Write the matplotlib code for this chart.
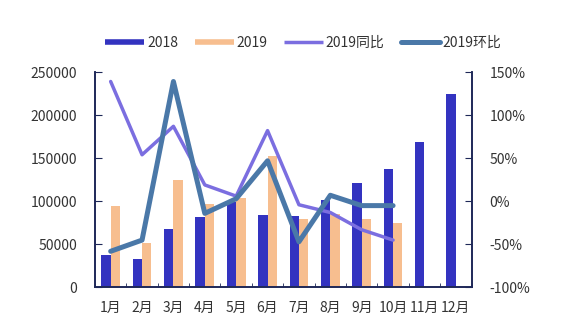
import matplotlib
matplotlib.use("Agg")
import matplotlib.pyplot as plt
import numpy as np
from matplotlib.lines import Line2D

plt.rcParams['font.family'] = ['Noto Sans CJK SC', 'DejaVu Sans']

months = ["1月", "2月", "3月", "4月", "5月", "6月", "7月", "8月", "9月", "10月", "11月", "12月"]
sales_2018 = [38000, 33500, 67500, 81500, 99000, 84000, 83500, 101000, 121000, 137000, 168500, 225000]
sales_2019 = [95000, 52000, 125000, 96500, 103500, 152000, 79000, 85500, 79000, 74500]
yoy_2019 = [139, 54, 87, 19, 6, 82, -4, -13, -33, -45]
mom_2019 = [-58, -45, 139, -14, 3, 47, -47, 7, -5, -5]

c18 = "#3333C0"
c19 = "#F7BE8F"
cyoy = "#7B6EE0"
cmom = "#4A78A8"
axc = "#1E2858"
txt = "#333333"

fig = plt.figure(figsize=(5.62, 3.25), dpi=100)
ax = fig.add_axes([0.169, 0.1154, 0.670, 0.663])
ax2 = ax.twinx()

x = np.arange(len(months))
w = 0.3
x19 = np.arange(len(sales_2019))
ax.bar(x - w / 2, sales_2018, width=w, color=c18, zorder=2)
ax.bar(x19 + w / 2, sales_2019, width=w, color=c19, zorder=2)

ax2.plot(x19, yoy_2019, color=cyoy, lw=2.5, solid_capstyle='round', solid_joinstyle='round', zorder=3)
ax2.plot(x19, mom_2019, color=cmom, lw=3.6, solid_capstyle='round', solid_joinstyle='round', zorder=4)

ax.set_xlim(-0.5, 11.5)
ax.set_ylim(0, 250000)
ax2.set_ylim(-100, 150)
ax.set_yticks(np.arange(0, 250001, 50000))
ax2.set_yticks(np.arange(-100, 151, 50))
ax2.set_yticklabels([f"{v}%" for v in range(-100, 151, 50)])
ax.set_xticks(x)
ax.set_xticklabels(months)
ax.set_xticks(np.arange(-0.5, 11.6, 1), minor=True)

ax.tick_params(axis='x', which='major', length=0, pad=10, labelsize=10, colors=txt)
ax.tick_params(axis='x', which='minor', length=3, direction='in', color=axc)
ax.tick_params(axis='y', length=5, direction='in', color=axc, labelsize=10, labelcolor=txt, pad=13)
ax2.tick_params(axis='y', length=5, direction='in', color=axc, labelsize=10, labelcolor=txt, pad=13)

for a in (ax, ax2):
    a.spines['top'].set_visible(False)
    for s in ('left', 'right', 'bottom'):
        a.spines[s].set_color(axc)
        a.spines[s].set_linewidth(1.2)

handles = [
    Line2D([], [], color=c18, lw=4, solid_capstyle='butt'),
    Line2D([], [], color=c19, lw=4, solid_capstyle='butt'),
    Line2D([], [], color=cyoy, lw=2.5, solid_capstyle='butt'),
    Line2D([], [], color=cmom, lw=3.6, solid_capstyle='round'),
]
labels = ["2018", "2019", "2019同比", "2019环比"]
fig.legend(handles, labels, loc='center', bbox_to_anchor=(0.54, 0.868), ncol=4, frameon=False,
           fontsize=10, handlelength=2.8, handletextpad=0.2, columnspacing=1.2, labelcolor=txt)

fig.savefig("out.png", dpi=100)
